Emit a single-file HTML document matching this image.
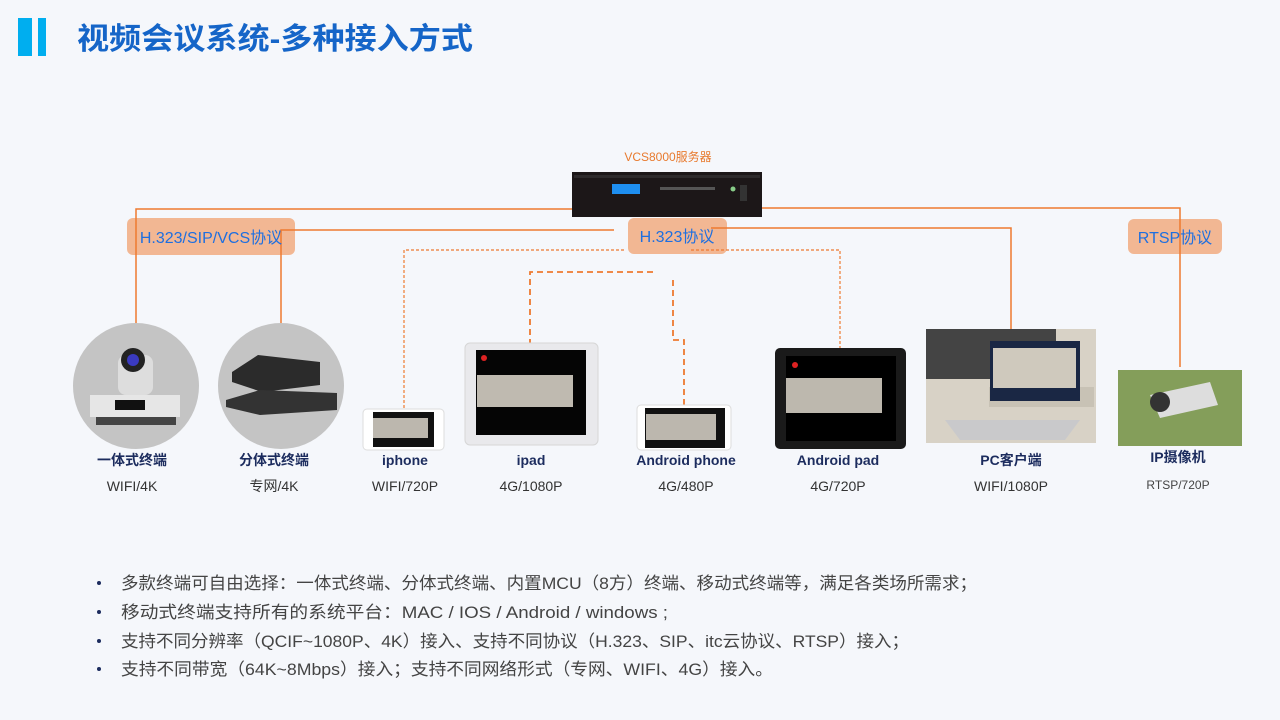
<!DOCTYPE html>
<html><head><meta charset="utf-8"><style>
body{margin:0;width:1280px;height:720px;background:#f5f7fb;overflow:hidden;font-family:"Liberation Sans","Noto Sans CJK SC",sans-serif;}
svg{position:absolute;left:0;top:0}
</style></head><body>
<svg width="1280" height="720" viewBox="0 0 1280 720" font-family="Liberation Sans, Noto Sans CJK SC, sans-serif">
<rect x="18" y="18" width="14" height="38" fill="#00aeef"/>
<rect x="38" y="18" width="8" height="38" fill="#00aeef"/>
<text x="77" y="49" font-size="30" font-weight="bold" fill="#1565c8" textLength="396" lengthAdjust="spacingAndGlyphs">视频会议系统-多种接入方式</text>

<text x="668" y="161" font-size="12" fill="#e87a2e" text-anchor="middle">VCS8000服务器</text>
<rect x="572" y="172" width="190" height="45" fill="#1c1718"/>
<rect x="574" y="175" width="186" height="3" fill="#2d2a2b"/>
<rect x="612" y="184" width="28" height="10" fill="#1e8ff0"/>
<rect x="660" y="187" width="55" height="3" fill="#555"/>
<circle cx="733" cy="189" r="2.5" fill="#8c8"/>
<rect x="740" y="185" width="7" height="16" fill="#333"/>

<rect x="127" y="218" width="168" height="37" rx="6" fill="#f1ac80" opacity="0.85"/>
<rect x="628" y="218" width="99" height="36" rx="6" fill="#f1ac80" opacity="0.85"/>
<rect x="1128" y="219" width="94" height="35" rx="6" fill="#f1ac80" opacity="0.85"/>
<g stroke="#ee7a30" stroke-width="1.5" fill="none">
<polyline points="572,209 136,209 136,324"/>
<polyline points="614,230 281,230 281,324"/>
<polyline points="711,228 1011,228 1011,329"/>
<polyline points="762,208 1180,208 1180,367"/>
</g>
<text x="211" y="243" font-size="16" fill="#1e6fe0" text-anchor="middle">H.323/SIP/VCS协议</text>
<text x="677" y="242" font-size="16" fill="#1e6fe0" text-anchor="middle">H.323协议</text>
<text x="1175" y="243" font-size="16" fill="#1e6fe0" text-anchor="middle">RTSP协议</text>

<g stroke="#ee7a30" stroke-width="1.2" fill="none" stroke-dasharray="3,2">
<polyline points="624,250 404,250 404,410"/>
<polyline points="691,250 840,250 840,348"/>
</g>
<g stroke="#ee7a30" stroke-width="1.8" fill="none" stroke-dasharray="6,4">
<polyline points="653,272 530,272 530,343"/>
<polyline points="673,280 673,340 684,340 684,405"/>
</g>

<circle cx="136" cy="386" r="63" fill="#c4c4c4"/>
<rect x="90" y="395" width="90" height="22" fill="#e6e6e6"/>
<rect x="115" y="400" width="30" height="10" fill="#111"/>
<rect x="96" y="417" width="80" height="8" fill="#444"/>
<rect x="118" y="355" width="35" height="40" rx="8" fill="#ddd"/>
<circle cx="133" cy="360" r="12" fill="#222"/><circle cx="133" cy="360" r="6" fill="#3a3ac0"/>
<circle cx="281" cy="386" r="63" fill="#c4c4c4"/>
<polygon points="232,372 258,355 320,362 320,385 262,392 232,382" fill="#2b2b2b"/>
<polygon points="226,400 260,390 337,393 337,410 260,415 226,407" fill="#333"/>

<rect x="363" y="409" width="81" height="41" rx="4" fill="#fff" stroke="#ddd"/>
<rect x="373" y="412" width="61" height="35" fill="#111"/><rect x="373" y="418" width="55" height="20" fill="#bcb7ae"/>

<rect x="465" y="343" width="133" height="102" rx="5" fill="#e9e9ec" stroke="#d6d6d6"/>
<rect x="476" y="350" width="110" height="85" fill="#050505"/>
<rect x="477" y="375" width="96" height="32" fill="#bfbab0"/>
<circle cx="484" cy="358" r="3" fill="#d22"/>

<rect x="637" y="405" width="94" height="45" rx="4" fill="#fff" stroke="#ddd"/>
<rect x="645" y="408" width="80" height="40" fill="#111"/><rect x="646" y="414" width="70" height="26" fill="#bcb7ae"/>

<rect x="775" y="348" width="131" height="101" rx="5" fill="#1a1a1a"/>
<rect x="786" y="356" width="110" height="85" fill="#000"/>
<rect x="786" y="378" width="96" height="35" fill="#bdb8ae"/>
<circle cx="795" cy="365" r="3" fill="#d22"/>

<rect x="926" y="329" width="170" height="114" fill="#d8d2c6"/>
<rect x="926" y="329" width="130" height="50" fill="#444"/>
<rect x="989" y="387" width="105" height="20" fill="#c8c2b5"/>
<rect x="990" y="341" width="90" height="60" fill="#1a2744"/>
<rect x="993" y="348" width="83" height="40" fill="#cfc9bd"/>
<polygon points="945,420 1080,420 1065,440 960,440" fill="#c9c9cb"/>

<rect x="1118" y="370" width="124" height="76" fill="#6f8d45"/>
<rect x="1118" y="370" width="124" height="76" fill="#9ab070" opacity="0.5"/>
<polygon points="1150,395 1210,382 1218,405 1160,418" fill="#ddd"/>
<circle cx="1160" cy="402" r="10" fill="#333"/>

<g font-size="14" font-weight="bold" fill="#1c2c5e" text-anchor="middle">
<text x="132" y="465">一体式终端</text>
<text x="274" y="465">分体式终端</text>
<text x="405" y="465">iphone</text>
<text x="531" y="465">ipad</text>
<text x="686" y="465">Android phone</text>
<text x="838" y="465">Android pad</text>
<text x="1011" y="465">PC客户端</text>
<text x="1178" y="462">IP摄像机</text>
</g>
<g font-size="14" fill="#333" text-anchor="middle">
<text x="132" y="491">WIFI/4K</text>
<text x="274" y="491">专网/4K</text>
<text x="405" y="491">WIFI/720P</text>
<text x="531" y="491">4G/1080P</text>
<text x="686" y="491">4G/480P</text>
<text x="838" y="491">4G/720P</text>
<text x="1011" y="491">WIFI/1080P</text>
<text x="1178" y="489" font-size="12" fill="#444">RTSP/720P</text>
</g>

<g font-size="17" fill="#444">
<circle cx="99" cy="583" r="2" fill="#1c2c5e"/>
<circle cx="99" cy="612" r="2" fill="#1c2c5e"/>
<circle cx="99" cy="641" r="2" fill="#1c2c5e"/>
<circle cx="99" cy="669" r="2" fill="#1c2c5e"/>
<text x="121" y="589" textLength="856" lengthAdjust="spacingAndGlyphs">多款终端可自由选择：一体式终端、分体式终端、内置MCU（8方）终端、移动式终端等，满足各类场所需求；</text>
<text x="121" y="618" textLength="547" lengthAdjust="spacingAndGlyphs">移动式终端支持所有的系统平台：MAC / IOS / Android / windows ;</text>
<text x="121" y="647" textLength="788" lengthAdjust="spacingAndGlyphs">支持不同分辨率（QCIF~1080P、4K）接入、支持不同协议（H.323、SIP、itc云协议、RTSP）接入；</text>
<text x="121" y="675" textLength="652" lengthAdjust="spacingAndGlyphs">支持不同带宽（64K~8Mbps）接入；支持不同网络形式（专网、WIFI、4G）接入。</text>
</g>
</svg>
</body></html>
